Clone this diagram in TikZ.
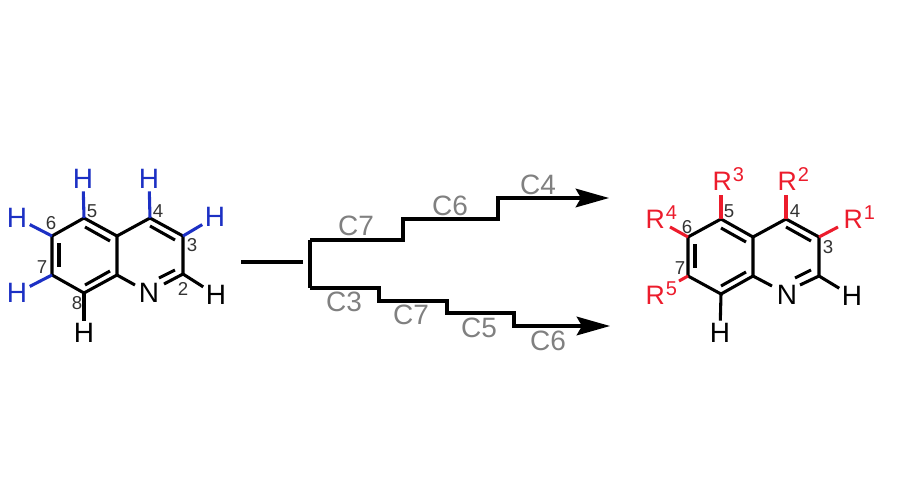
\documentclass[tikz,border=0pt]{standalone}
\usepackage{fontspec}
\setmainfont{Liberation Sans}
\usetikzlibrary{arrows.meta}
\definecolor{hblue}{RGB}{28,48,196}
\definecolor{rred}{RGB}{236,28,44}
\definecolor{cgrey}{RGB}{128,128,128}
\newcommand{\rsup}[1]{R\kern0.8pt\raisebox{6.75pt}{\fontsize{15}{16}\selectfont #1}}
\begin{document}
\begin{tikzpicture}[x=0.75pt, y=-0.75pt, line width=2.3pt,
		atom/.style = {inner sep=0pt, outer sep=2pt, font=\fontsize{21}{22}\selectfont},
		num/.style = {inner sep=0pt, text=black!80, font=\fontsize{14}{15}\selectfont},
		carbon/.style = {inner sep=0pt, text=cgrey, font=\fontsize{21}{22}\selectfont},
		rgroup/.style = {inner sep=0pt, anchor=base west, text=rred, font=\fontsize{20}{21}\selectfont},
		bluebond/.style = {draw=hblue}, redbond/.style = {draw=rred},
		route/.style = {line width=2.4pt, -{Stealth[length=25pt, width=14pt, inset=4pt]}}] 
		
		\useasboundingbox (0,0) rectangle (920,500);
		
		% left ring
		\coordinate (a5) at (84,218);
		\coordinate (a6) at (52,236);
		\coordinate (a7) at (52,275);
		\coordinate (a8) at (84,293);
		\coordinate (a8a) at (117,275);
		\coordinate (a4a) at (117,236);
		\coordinate (a4) at (150,218);
		\coordinate (a3) at (183,236);
		\coordinate (a2) at (183,274);
		
		\node[atom] (aN) at (149,293) {N};
		\node[atom] (aH2) at (216,295) {H};
		\node[atom] (aH8) at (84,333) {H};
		\node[atom, text=hblue] (aH3) at (215,217) {H};
		\node[atom, text=hblue] (aH4) at (149,179) {H};
		\node[atom, text=hblue] (aH5) at (83,179) {H};
		\node[atom, text=hblue] (aH6) at (17,218) {H};
		\node[atom, text=hblue] (aH7) at (17,293) {H};
		
		\node[num] (an2) at (183,289) {2};
		\node[num] (an3) at (192,245) {3};
		\node[num] (an4) at (158,211) {4};
		\node[num] (an5) at (92,211) {5};
		\node[num] (an6) at (51,223) {6};
		\node[num] (an7) at (42,267) {7};
		\node[num] (an8) at (77,303) {8};
		
		\draw (a5) -- (a6) -- (a7) -- (a8) -- (a8a) -- (a4a) -- cycle;
		\draw (a4a) -- (a4) -- (a3) -- (a2);
		\draw (a8a) -- (135,285);
		\draw (a2) -- (164,284);
		\draw (159,278) -- (175,270);
		\draw (150,226) -- (175,240);
		\draw (85,227) -- (110,241);
		\draw (59,243) -- (59,267);
		\draw (85,285) -- (110,271);
		\draw (a2) -- (aH2);
		\draw (a8) -- (aH8);
		\draw[bluebond] (a3) -- (aH3);
		\draw[bluebond] (a4) -- (aH4);
		\draw[bluebond] (a5) -- (aH5);
		\draw[bluebond] (a6) -- (aH6);
		\draw[bluebond] (a7) -- (aH7);
		
		% routes
		\coordinate (s0) at (241,262);
		\coordinate (s1) at (303,262);
		\coordinate (t0) at (310,240);
		\coordinate (b0) at (310,288);
		\coordinate (t1) at (403,240);
		\coordinate (t2) at (403,219);
		\coordinate (t3) at (498,219);
		\coordinate (t4) at (498,198);
		\coordinate (t5) at (609,198);
		\coordinate (b1) at (379,288);
		\coordinate (b2) at (379,301);
		\coordinate (b3) at (447,301);
		\coordinate (b4) at (447,313);
		\coordinate (b5) at (514,313);
		\coordinate (b6) at (514,326);
		\coordinate (b7) at (610,326);
		
		\draw (s0) -- (s1);
		\draw[route] (t0) -- (t1) -- (t2) -- (t3) -- (t4) -- (t5);
		\draw[route] (b0) -- (b1) -- (b2) -- (b3) -- (b4) -- (b5) -- (b6) -- (b7);
		\draw[line width=2.4pt] (t0) -- (b0);
		
		\node[carbon] (l1) at (356,226) {C7};
		\node[carbon] (l2) at (450,206) {C6};
		\node[carbon] (l3) at (538,185) {C4};
		\node[carbon] (l4) at (344,302) {C3};
		\node[carbon] (l5) at (411,315) {C7};
		\node[carbon] (l6) at (479,328) {C5};
		\node[carbon] (l7) at (548,341) {C6};
		
		% right ring
		\coordinate (c5) at (721,219);
		\coordinate (c6) at (688,237);
		\coordinate (c7) at (688,276);
		\coordinate (c8) at (721,294);
		\coordinate (c8a) at (753,276);
		\coordinate (c4a) at (753,237);
		\coordinate (c4) at (786,219);
		\coordinate (c3) at (819,237);
		\coordinate (c2) at (819,276);
		\coordinate (r3) at (721,195);
		\coordinate (r2) at (786,195);
		\coordinate (r1) at (838,227);
		\coordinate (r4) at (670,227);
		\coordinate (r5) at (679,281);
		
		\node[atom] (cN) at (787,295) {N};
		\node[atom] (cH2) at (852,296) {H};
		\node[atom] (cH8) at (720,333) {H};
		\node[rgroup] (cR3) at (711,190) {\rsup{3}};
		\node[rgroup] (cR2) at (776,190) {\rsup{2}};
		\node[rgroup] (cR1) at (842,228) {\rsup{1}};
		\node[rgroup] (cR4) at (644,228) {\rsup{4}};
		\node[rgroup] (cR5) at (644,304) {\rsup{5}};
		
		\node[num] (cn3) at (828,247) {3};
		\node[num] (cn4) at (795,211) {4};
		\node[num] (cn5) at (729,211) {5};
		\node[num] (cn6) at (687,227) {6};
		\node[num] (cn7) at (680,268) {7};
		
		\draw (c5) -- (c6) -- (c7) -- (c8) -- (c8a) -- (c4a) -- cycle;
		\draw (c4a) -- (c4) -- (c3) -- (c2);
		\draw (c8a) -- (772,286);
		\draw (c2) -- (800,285);
		\draw (795,278) -- (811,270);
		\draw (786,227) -- (811,241);
		\draw (721,228) -- (746,242);
		\draw (695,244) -- (695,268);
		\draw (721,286) -- (746,272);
		\draw (c2) -- (cH2);
		\draw (c8) -- (cH8);
		\draw[redbond] (c5) -- (r3);
		\draw[redbond] (c4) -- (r2);
		\draw[redbond] (c3) -- (r1);
		\draw[redbond] (c6) -- (r4);
		\draw[redbond] (c7) -- (r5);
		
	\end{tikzpicture}
\end{document}
